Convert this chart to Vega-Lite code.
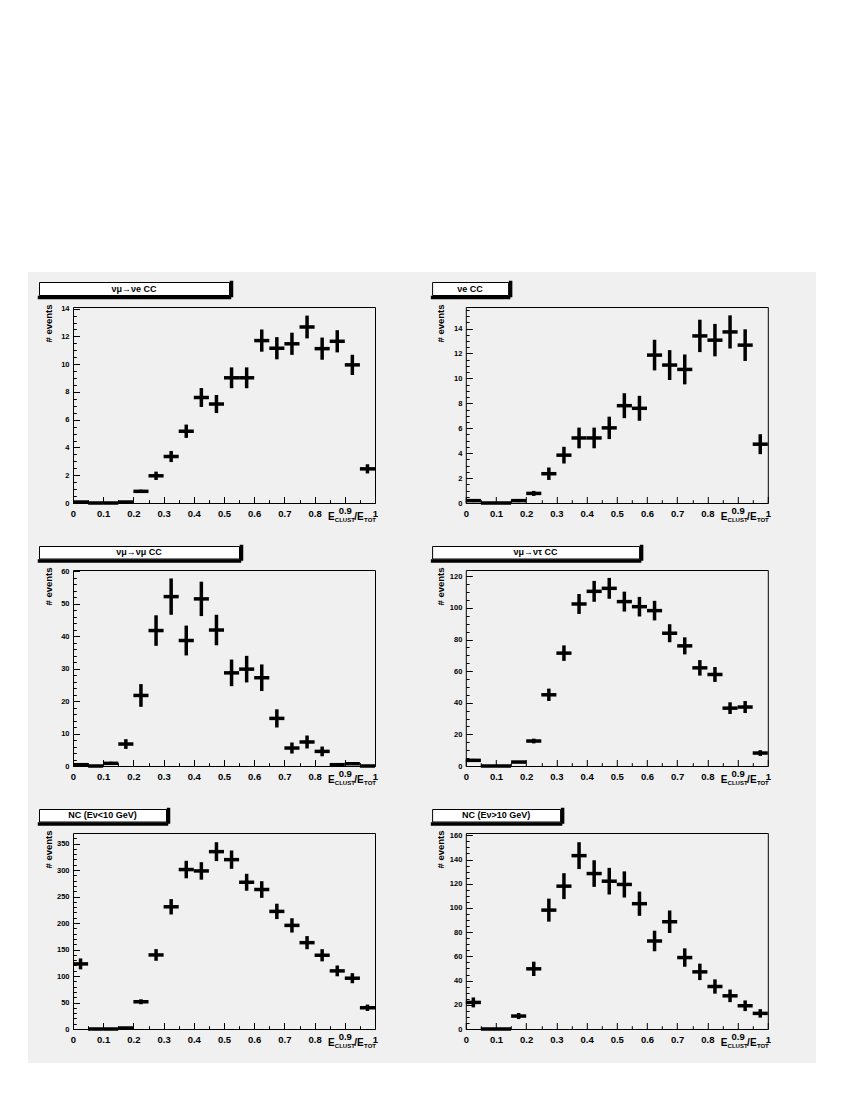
{
"$schema":"https://vega.github.io/schema/vega-lite/v6.json",
"background":"#f0f0f0",
"padding":0,
"spacing":0,
"config":{"view":{"stroke":null},"font":"Liberation Sans",
 "axis":{"domain":false,"grid":false,"tickColor":"black","tickWidth":1,"labelColor":"black","titleColor":"black","labelFont":"Liberation Sans","titleFont":"Liberation Sans","labelFontWeight":"bold","titleFontWeight":"bold","labelOverlap":false,"labelFlush":false}},
"datasets":{"h":[
{"p":1,"lo":0,"hi":0.05,"c":0.025,"n":0.07,"e":0.06},{"p":1,"lo":0.05,"hi":0.1,"c":0.075,"n":0,"e":0},{"p":1,"lo":0.1,"hi":0.15,"c":0.125,"n":0,"e":0},{"p":1,"lo":0.15,"hi":0.2,"c":0.175,"n":0.07,"e":0.06},{"p":1,"lo":0.2,"hi":0.25,"c":0.225,"n":0.84,"e":0.12},{"p":1,"lo":0.25,"hi":0.3,"c":0.275,"n":1.96,"e":0.3},{"p":1,"lo":0.3,"hi":0.35,"c":0.325,"n":3.35,"e":0.4},{"p":1,"lo":0.35,"hi":0.4,"c":0.375,"n":5.17,"e":0.48},{"p":1,"lo":0.4,"hi":0.45,"c":0.425,"n":7.6,"e":0.68},{"p":1,"lo":0.45,"hi":0.5,"c":0.475,"n":7.13,"e":0.65},{"p":1,"lo":0.5,"hi":0.55,"c":0.525,"n":9.02,"e":0.75},{"p":1,"lo":0.55,"hi":0.6,"c":0.575,"n":9.02,"e":0.75},{"p":1,"lo":0.6,"hi":0.65,"c":0.625,"n":11.7,"e":0.8},{"p":1,"lo":0.65,"hi":0.7,"c":0.675,"n":11.15,"e":0.8},{"p":1,"lo":0.7,"hi":0.75,"c":0.725,"n":11.47,"e":0.8},{"p":1,"lo":0.75,"hi":0.8,"c":0.775,"n":12.68,"e":0.82},{"p":1,"lo":0.8,"hi":0.85,"c":0.825,"n":11.12,"e":0.8},{"p":1,"lo":0.85,"hi":0.9,"c":0.875,"n":11.65,"e":0.8},{"p":1,"lo":0.9,"hi":0.95,"c":0.925,"n":9.95,"e":0.73},{"p":1,"lo":0.95,"hi":1,"c":0.975,"n":2.46,"e":0.33},
{"p":2,"lo":0,"hi":0.05,"c":0.025,"n":0.19,"e":0.12},{"p":2,"lo":0.05,"hi":0.1,"c":0.075,"n":0,"e":0},{"p":2,"lo":0.1,"hi":0.15,"c":0.125,"n":0,"e":0},{"p":2,"lo":0.15,"hi":0.2,"c":0.175,"n":0.19,"e":0.12},{"p":2,"lo":0.2,"hi":0.25,"c":0.225,"n":0.77,"e":0.2},{"p":2,"lo":0.25,"hi":0.3,"c":0.275,"n":2.35,"e":0.5},{"p":2,"lo":0.3,"hi":0.35,"c":0.325,"n":3.84,"e":0.67},{"p":2,"lo":0.35,"hi":0.4,"c":0.375,"n":5.22,"e":0.83},{"p":2,"lo":0.4,"hi":0.45,"c":0.425,"n":5.22,"e":0.83},{"p":2,"lo":0.45,"hi":0.5,"c":0.475,"n":6.03,"e":0.9},{"p":2,"lo":0.5,"hi":0.55,"c":0.525,"n":7.81,"e":1.0},{"p":2,"lo":0.55,"hi":0.6,"c":0.575,"n":7.6,"e":1.0},{"p":2,"lo":0.6,"hi":0.65,"c":0.625,"n":11.87,"e":1.23},{"p":2,"lo":0.65,"hi":0.7,"c":0.675,"n":11.07,"e":1.2},{"p":2,"lo":0.7,"hi":0.75,"c":0.725,"n":10.72,"e":1.2},{"p":2,"lo":0.75,"hi":0.8,"c":0.775,"n":13.41,"e":1.3},{"p":2,"lo":0.8,"hi":0.85,"c":0.825,"n":13.07,"e":1.3},{"p":2,"lo":0.85,"hi":0.9,"c":0.875,"n":13.73,"e":1.33},{"p":2,"lo":0.9,"hi":0.95,"c":0.925,"n":12.67,"e":1.27},{"p":2,"lo":0.95,"hi":1,"c":0.975,"n":4.72,"e":0.8},
{"p":3,"lo":0,"hi":0.05,"c":0.025,"n":0.4,"e":0.35},{"p":3,"lo":0.05,"hi":0.1,"c":0.075,"n":0,"e":0},{"p":3,"lo":0.1,"hi":0.15,"c":0.125,"n":0.82,"e":0.5},{"p":3,"lo":0.15,"hi":0.2,"c":0.175,"n":6.77,"e":1.5},{"p":3,"lo":0.2,"hi":0.25,"c":0.225,"n":21.74,"e":3.5},{"p":3,"lo":0.25,"hi":0.3,"c":0.275,"n":41.74,"e":4.7},{"p":3,"lo":0.3,"hi":0.35,"c":0.325,"n":52.2,"e":5.6},{"p":3,"lo":0.35,"hi":0.4,"c":0.375,"n":38.67,"e":4.6},{"p":3,"lo":0.4,"hi":0.45,"c":0.425,"n":51.5,"e":5.3},{"p":3,"lo":0.45,"hi":0.5,"c":0.475,"n":41.9,"e":4.7},{"p":3,"lo":0.5,"hi":0.55,"c":0.525,"n":28.7,"e":4.1},{"p":3,"lo":0.55,"hi":0.6,"c":0.575,"n":29.85,"e":4.1},{"p":3,"lo":0.6,"hi":0.65,"c":0.625,"n":27.2,"e":4.1},{"p":3,"lo":0.65,"hi":0.7,"c":0.675,"n":14.67,"e":2.8},{"p":3,"lo":0.7,"hi":0.75,"c":0.725,"n":5.54,"e":1.7},{"p":3,"lo":0.75,"hi":0.8,"c":0.775,"n":7.4,"e":2.0},{"p":3,"lo":0.8,"hi":0.85,"c":0.825,"n":4.5,"e":1.5},{"p":3,"lo":0.85,"hi":0.9,"c":0.875,"n":0.4,"e":0.3},{"p":3,"lo":0.9,"hi":0.95,"c":0.925,"n":0.7,"e":0.4},{"p":3,"lo":0.95,"hi":1,"c":0.975,"n":0,"e":0},
{"p":4,"lo":0,"hi":0.05,"c":0.025,"n":3.58,"e":0.9},{"p":4,"lo":0.05,"hi":0.1,"c":0.075,"n":0,"e":0},{"p":4,"lo":0.1,"hi":0.15,"c":0.125,"n":0,"e":0},{"p":4,"lo":0.15,"hi":0.2,"c":0.175,"n":2.5,"e":0.5},{"p":4,"lo":0.2,"hi":0.25,"c":0.225,"n":15.8,"e":1.5},{"p":4,"lo":0.25,"hi":0.3,"c":0.275,"n":45.05,"e":3.9},{"p":4,"lo":0.3,"hi":0.35,"c":0.325,"n":71.4,"e":4.9},{"p":4,"lo":0.35,"hi":0.4,"c":0.375,"n":102.5,"e":6.3},{"p":4,"lo":0.4,"hi":0.45,"c":0.425,"n":110.5,"e":6.6},{"p":4,"lo":0.45,"hi":0.5,"c":0.475,"n":112.4,"e":6.6},{"p":4,"lo":0.5,"hi":0.55,"c":0.525,"n":104,"e":6.3},{"p":4,"lo":0.55,"hi":0.6,"c":0.575,"n":100.8,"e":6.2},{"p":4,"lo":0.6,"hi":0.65,"c":0.625,"n":98.3,"e":6.2},{"p":4,"lo":0.65,"hi":0.7,"c":0.675,"n":84,"e":5.7},{"p":4,"lo":0.7,"hi":0.75,"c":0.725,"n":76,"e":5.4},{"p":4,"lo":0.75,"hi":0.8,"c":0.775,"n":62.1,"e":4.9},{"p":4,"lo":0.8,"hi":0.85,"c":0.825,"n":57.9,"e":4.7},{"p":4,"lo":0.85,"hi":0.9,"c":0.875,"n":36.6,"e":3.7},{"p":4,"lo":0.9,"hi":0.95,"c":0.925,"n":37.3,"e":3.8},{"p":4,"lo":0.95,"hi":1,"c":0.975,"n":8.2,"e":1.8},
{"p":5,"lo":0,"hi":0.05,"c":0.025,"n":122.9,"e":10.3},{"p":5,"lo":0.05,"hi":0.1,"c":0.075,"n":0,"e":0},{"p":5,"lo":0.1,"hi":0.15,"c":0.125,"n":0,"e":0},{"p":5,"lo":0.15,"hi":0.2,"c":0.175,"n":1.9,"e":1.0},{"p":5,"lo":0.2,"hi":0.25,"c":0.225,"n":51.4,"e":4.7},{"p":5,"lo":0.25,"hi":0.3,"c":0.275,"n":139.8,"e":11},{"p":5,"lo":0.3,"hi":0.35,"c":0.325,"n":230.7,"e":14.5},{"p":5,"lo":0.35,"hi":0.4,"c":0.375,"n":301,"e":16.5},{"p":5,"lo":0.4,"hi":0.45,"c":0.425,"n":298.4,"e":16.5},{"p":5,"lo":0.45,"hi":0.5,"c":0.475,"n":334.8,"e":17.8},{"p":5,"lo":0.5,"hi":0.55,"c":0.525,"n":319.7,"e":17.3},{"p":5,"lo":0.55,"hi":0.6,"c":0.575,"n":277,"e":16},{"p":5,"lo":0.6,"hi":0.65,"c":0.625,"n":263.3,"e":15.7},{"p":5,"lo":0.65,"hi":0.7,"c":0.675,"n":222,"e":14.5},{"p":5,"lo":0.7,"hi":0.75,"c":0.725,"n":195.6,"e":13.5},{"p":5,"lo":0.75,"hi":0.8,"c":0.775,"n":163,"e":12.4},{"p":5,"lo":0.8,"hi":0.85,"c":0.825,"n":139.2,"e":11.5},{"p":5,"lo":0.85,"hi":0.9,"c":0.875,"n":109.7,"e":10.2},{"p":5,"lo":0.9,"hi":0.95,"c":0.925,"n":95.9,"e":9.5},{"p":5,"lo":0.95,"hi":1,"c":0.975,"n":40.1,"e":6},
{"p":6,"lo":0,"hi":0.05,"c":0.025,"n":21.95,"e":4.1},{"p":6,"lo":0.05,"hi":0.1,"c":0.075,"n":0,"e":0},{"p":6,"lo":0.1,"hi":0.15,"c":0.125,"n":0,"e":0},{"p":6,"lo":0.15,"hi":0.2,"c":0.175,"n":10.7,"e":2.5},{"p":6,"lo":0.2,"hi":0.25,"c":0.225,"n":49.7,"e":5.9},{"p":6,"lo":0.25,"hi":0.3,"c":0.275,"n":98.2,"e":9.5},{"p":6,"lo":0.3,"hi":0.35,"c":0.325,"n":118,"e":10.7},{"p":6,"lo":0.35,"hi":0.4,"c":0.375,"n":143.2,"e":11.1},{"p":6,"lo":0.4,"hi":0.45,"c":0.425,"n":128.4,"e":11},{"p":6,"lo":0.45,"hi":0.5,"c":0.475,"n":122.1,"e":11},{"p":6,"lo":0.5,"hi":0.55,"c":0.525,"n":119.4,"e":10.8},{"p":6,"lo":0.55,"hi":0.6,"c":0.575,"n":103.5,"e":10},{"p":6,"lo":0.6,"hi":0.65,"c":0.625,"n":72.7,"e":8.5},{"p":6,"lo":0.65,"hi":0.7,"c":0.675,"n":88.6,"e":9.3},{"p":6,"lo":0.7,"hi":0.75,"c":0.725,"n":59,"e":7.6},{"p":6,"lo":0.75,"hi":0.8,"c":0.775,"n":47.2,"e":6.8},{"p":6,"lo":0.8,"hi":0.85,"c":0.825,"n":35.1,"e":5.9},{"p":6,"lo":0.85,"hi":0.9,"c":0.875,"n":27.4,"e":5.2},{"p":6,"lo":0.9,"hi":0.95,"c":0.925,"n":19.2,"e":4.4},{"p":6,"lo":0.95,"hi":1,"c":0.975,"n":12.9,"e":3.5}
]},
"hconcat":[
 {"width":28,"height":1100,"data":{"values":[]},"mark":"point","view":{"fill":"white","stroke":null}},
 {"spacing":0,"vconcat":[
  {"width":788,"height":272,"data":{"values":[]},"mark":"point","view":{"fill":"white","stroke":null}},
  {"width":788,"height":8.5,"data":{"values":[]},"mark":"point"},
  {"spacing":0,"hconcat":[
   {"width":9.25,"height":10,"data":{"values":[]},"mark":"point"},
   {"spacing":22,"vconcat":[
    {"spacing":4,"vconcat":[
     {"spacing":199.1,"hconcat":[
      {"width":190,"height":13,"view":{"fill":"white","stroke":"black","strokeWidth":1},"data":{"values":[{"t":"νμ→νe CC"}]},"mark":{"type":"text","fontSize":9,"fontWeight":"bold","color":"black"},
       "encoding":{"text":{"field":"t","type":"nominal"},
        "x":{"datum":0.5,"type":"quantitative","scale":{"domain":[0,1]},"axis":{"orient":"bottom","offset":2,"domain":true,"domainColor":"black","domainWidth":3.5,"domainCap":"square","ticks":false,"labels":false,"title":null}},
        "y":{"datum":0.5,"type":"quantitative","scale":{"domain":[0,1]},"axis":{"orient":"right","offset":2,"domain":true,"domainColor":"black","domainWidth":3.5,"domainCap":"square","ticks":false,"labels":false,"title":null}}}},
      {"width":76,"height":13,"view":{"fill":"white","stroke":"black","strokeWidth":1},"data":{"values":[{"t":"νe CC"}]},"mark":{"type":"text","fontSize":9,"fontWeight":"bold","color":"black"},
       "encoding":{"text":{"field":"t","type":"nominal"},
        "x":{"datum":0.5,"type":"quantitative","scale":{"domain":[0,1]},"axis":{"orient":"bottom","offset":2,"domain":true,"domainColor":"black","domainWidth":3.5,"domainCap":"square","ticks":false,"labels":false,"title":null}},
        "y":{"datum":0.5,"type":"quantitative","scale":{"domain":[0,1]},"axis":{"orient":"right","offset":2,"domain":true,"domainColor":"black","domainWidth":3.5,"domainCap":"square","ticks":false,"labels":false,"title":null}}}}
     ]},
     {"spacing":0,"hconcat":[
      {"width":0.5,"height":1,"data":{"values":[]},"mark":"point"},
      {"spacing":53.8,"hconcat":[
      {"width":302,"height":196,"view":{"stroke":"black","strokeWidth":1},"data":{"name":"h"},"transform":[{"filter":"datum.p==1"}],
       "resolve":{"axis":{"x":"independent","y":"independent"}},
       "layer":[
        {"mark":{"type":"rule","strokeWidth":3.5,"color":"black"},
         "encoding":{"x":{"field":"lo","type":"quantitative","scale":{"domain":[0,1],"nice":false},"axis":{"orient":"bottom","values":[0,0.1,0.2,0.3,0.4,0.5,0.6,0.7,0.8,0.9,1],"format":"~g","tickSize":-6.5,"labelFontSize":9.5,"labelPadding":{"condition":{"test":"datum.value > 0.85 && datum.value < 0.95","value":8.7},"value":11.5},"title":"E","titleFontSize":10,"titleX":254.5,"titleY":16.3,"titleAlign":"left","titleBaseline":"alphabetic"}},"x2":{"field":"hi"},
          "y":{"field":"n","type":"quantitative","scale":{"domain":[0,14.12],"nice":false},"axis":{"orient":"left","values":[0,2,4,6,8,10,12,14],"format":"d","tickSize":-6.5,"labelFontSize":7.5,"labelPadding":10.5,"title":"# events","titleFontSize":9.5,"titleX":-25,"titleY":-3,"titleAlign":"right","titleBaseline":"middle","titleAngle":270}}}},
        {"mark":{"type":"errorbar","ticks":false,"thickness":3.5,"rule":{"strokeWidth":3.5},"color":"black"},
         "encoding":{"x":{"field":"c","type":"quantitative","axis":{"orient":"bottom","ticks":false,"labels":false,"title":"/E","titleFontSize":10,"titleX":280.8,"titleY":16.3,"titleAlign":"left","titleBaseline":"alphabetic"}},"y":{"field":"n","type":"quantitative","axis":null},"yError":{"field":"e"}}},
        {"mark":{"type":"point","opacity":0},
         "encoding":{"x":{"field":"c","type":"quantitative","axis":{"orient":"bottom","values":[0.05,0.15,0.25,0.35,0.45,0.55,0.65,0.75,0.85,0.95],"tickSize":-3.3,"labels":false,"title":"CLUST","titleFontSize":6,"titleX":261.3,"titleY":18.5,"titleAlign":"left","titleBaseline":"alphabetic"}},
          "y":{"field":"n","type":"quantitative","axis":{"orient":"left","values":[0.5,1,1.5,2.5,3,3.5,4.5,5,5.5,6.5,7,7.5,8.5,9,9.5,10.5,11,11.5,12.5,13,13.5],"tickSize":-3.3,"labels":false,"title":"I","titleOpacity":0,"titleAngle":0,"titleX":-31.75,"titleY":-4,"titleAlign":"left","titleBaseline":"top","titleFontSize":4}}}},
        {"mark":{"type":"point","opacity":0},
         "encoding":{"x":{"field":"c","type":"quantitative","axis":{"orient":"bottom","ticks":false,"labels":false,"title":"TOT","titleFontSize":6,"titleX":290.6,"titleY":18.5,"titleAlign":"left","titleBaseline":"alphabetic"}},"y":{"field":"n","type":"quantitative","axis":null}}}
       ]},
      {"width":302,"height":196,"view":{"stroke":"black","strokeWidth":1},"data":{"name":"h"},"transform":[{"filter":"datum.p==2"}],
       "resolve":{"axis":{"x":"independent","y":"independent"}},
       "layer":[
        {"mark":{"type":"rule","strokeWidth":3.5,"color":"black"},
         "encoding":{"x":{"field":"lo","type":"quantitative","scale":{"domain":[0,1],"nice":false},"axis":{"orient":"bottom","values":[0,0.1,0.2,0.3,0.4,0.5,0.6,0.7,0.8,0.9,1],"format":"~g","tickSize":-6.5,"labelFontSize":9.5,"labelPadding":{"condition":{"test":"datum.value > 0.85 && datum.value < 0.95","value":8.7},"value":11.5},"title":"E","titleFontSize":10,"titleX":254.5,"titleY":16.3,"titleAlign":"left","titleBaseline":"alphabetic"}},"x2":{"field":"hi"},
          "y":{"field":"n","type":"quantitative","scale":{"domain":[0,15.73],"nice":false},"axis":{"orient":"left","values":[0,2,4,6,8,10,12,14],"format":"d","tickSize":-6.5,"labelFontSize":7.5,"labelPadding":10.5,"title":"# events","titleFontSize":9.5,"titleX":-25,"titleY":-3,"titleAlign":"right","titleBaseline":"middle","titleAngle":270}}}},
        {"mark":{"type":"errorbar","ticks":false,"thickness":3.5,"rule":{"strokeWidth":3.5},"color":"black"},
         "encoding":{"x":{"field":"c","type":"quantitative","axis":{"orient":"bottom","ticks":false,"labels":false,"title":"/E","titleFontSize":10,"titleX":280.8,"titleY":16.3,"titleAlign":"left","titleBaseline":"alphabetic"}},"y":{"field":"n","type":"quantitative","axis":null},"yError":{"field":"e"}}},
        {"mark":{"type":"point","opacity":0},
         "encoding":{"x":{"field":"c","type":"quantitative","axis":{"orient":"bottom","values":[0.05,0.15,0.25,0.35,0.45,0.55,0.65,0.75,0.85,0.95],"tickSize":-3.3,"labels":false,"title":"CLUST","titleFontSize":6,"titleX":261.3,"titleY":18.5,"titleAlign":"left","titleBaseline":"alphabetic"}},
          "y":{"field":"n","type":"quantitative","axis":{"orient":"left","values":[0.5,1,1.5,2.5,3,3.5,4.5,5,5.5,6.5,7,7.5,8.5,9,9.5,10.5,11,11.5,12.5,13,13.5,14.5,15,15.5],"tickSize":-3.3,"labels":false,"title":"I","titleOpacity":0,"titleAngle":0,"titleX":-31.75,"titleY":-4,"titleAlign":"left","titleBaseline":"top","titleFontSize":4}}}},
        {"mark":{"type":"point","opacity":0},
         "encoding":{"x":{"field":"c","type":"quantitative","axis":{"orient":"bottom","ticks":false,"labels":false,"title":"TOT","titleFontSize":6,"titleX":290.6,"titleY":18.5,"titleAlign":"left","titleBaseline":"alphabetic"}},"y":{"field":"n","type":"quantitative","axis":null}}}
       ]}
      ]}
     ]}
    ]},
    {"spacing":4,"vconcat":[
     {"spacing":189.1,"hconcat":[
      {"width":200,"height":12.5,"view":{"fill":"white","stroke":"black","strokeWidth":1},"data":{"values":[{"t":"νμ→νμ CC"}]},"mark":{"type":"text","fontSize":9,"fontWeight":"bold","color":"black"},
       "encoding":{"text":{"field":"t","type":"nominal"},
        "x":{"datum":0.5,"type":"quantitative","scale":{"domain":[0,1]},"axis":{"orient":"bottom","offset":2,"domain":true,"domainColor":"black","domainWidth":3.5,"domainCap":"square","ticks":false,"labels":false,"title":null}},
        "y":{"datum":0.5,"type":"quantitative","scale":{"domain":[0,1]},"axis":{"orient":"right","offset":2,"domain":true,"domainColor":"black","domainWidth":3.5,"domainCap":"square","ticks":false,"labels":false,"title":null}}}},
      {"width":207,"height":12.5,"view":{"fill":"white","stroke":"black","strokeWidth":1},"data":{"values":[{"t":"νμ→ντ CC"}]},"mark":{"type":"text","fontSize":9,"fontWeight":"bold","color":"black"},
       "encoding":{"text":{"field":"t","type":"nominal"},
        "x":{"datum":0.5,"type":"quantitative","scale":{"domain":[0,1]},"axis":{"orient":"bottom","offset":2,"domain":true,"domainColor":"black","domainWidth":3.5,"domainCap":"square","ticks":false,"labels":false,"title":null}},
        "y":{"datum":0.5,"type":"quantitative","scale":{"domain":[0,1]},"axis":{"orient":"right","offset":2,"domain":true,"domainColor":"black","domainWidth":3.5,"domainCap":"square","ticks":false,"labels":false,"title":null}}}}
     ]},
     {"spacing":0,"hconcat":[
      {"width":0.5,"height":1,"data":{"values":[]},"mark":"point"},
      {"spacing":53.8,"hconcat":[
      {"width":302,"height":196,"view":{"stroke":"black","strokeWidth":1},"data":{"name":"h"},"transform":[{"filter":"datum.p==3"}],
       "resolve":{"axis":{"x":"independent","y":"independent"}},
       "layer":[
        {"mark":{"type":"rule","strokeWidth":3.5,"color":"black"},
         "encoding":{"x":{"field":"lo","type":"quantitative","scale":{"domain":[0,1],"nice":false},"axis":{"orient":"bottom","values":[0,0.1,0.2,0.3,0.4,0.5,0.6,0.7,0.8,0.9,1],"format":"~g","tickSize":-6.5,"labelFontSize":9.5,"labelPadding":{"condition":{"test":"datum.value > 0.85 && datum.value < 0.95","value":8.7},"value":11.5},"title":"E","titleFontSize":10,"titleX":254.5,"titleY":16.3,"titleAlign":"left","titleBaseline":"alphabetic"}},"x2":{"field":"hi"},
          "y":{"field":"n","type":"quantitative","scale":{"domain":[0,60.4],"nice":false},"axis":{"orient":"left","values":[0,10,20,30,40,50,60],"format":"d","tickSize":-6.5,"labelFontSize":7.5,"labelPadding":10.5,"title":"# events","titleFontSize":9.5,"titleX":-25,"titleY":-3,"titleAlign":"right","titleBaseline":"middle","titleAngle":270}}}},
        {"mark":{"type":"errorbar","ticks":false,"thickness":3.5,"rule":{"strokeWidth":3.5},"color":"black"},
         "encoding":{"x":{"field":"c","type":"quantitative","axis":{"orient":"bottom","ticks":false,"labels":false,"title":"/E","titleFontSize":10,"titleX":280.8,"titleY":16.3,"titleAlign":"left","titleBaseline":"alphabetic"}},"y":{"field":"n","type":"quantitative","axis":null},"yError":{"field":"e"}}},
        {"mark":{"type":"point","opacity":0},
         "encoding":{"x":{"field":"c","type":"quantitative","axis":{"orient":"bottom","values":[0.05,0.15,0.25,0.35,0.45,0.55,0.65,0.75,0.85,0.95],"tickSize":-3.3,"labels":false,"title":"CLUST","titleFontSize":6,"titleX":261.3,"titleY":18.5,"titleAlign":"left","titleBaseline":"alphabetic"}},
          "y":{"field":"n","type":"quantitative","axis":{"orient":"left","values":[2,4,6,8,12,14,16,18,22,24,26,28,32,34,36,38,42,44,46,48,52,54,56,58],"tickSize":-3.3,"labels":false,"title":"I","titleOpacity":0,"titleAngle":0,"titleX":-31.75,"titleY":-4,"titleAlign":"left","titleBaseline":"top","titleFontSize":4}}}},
        {"mark":{"type":"point","opacity":0},
         "encoding":{"x":{"field":"c","type":"quantitative","axis":{"orient":"bottom","ticks":false,"labels":false,"title":"TOT","titleFontSize":6,"titleX":290.6,"titleY":18.5,"titleAlign":"left","titleBaseline":"alphabetic"}},"y":{"field":"n","type":"quantitative","axis":null}}}
       ]},
      {"width":302,"height":196,"view":{"stroke":"black","strokeWidth":1},"data":{"name":"h"},"transform":[{"filter":"datum.p==4"}],
       "resolve":{"axis":{"x":"independent","y":"independent"}},
       "layer":[
        {"mark":{"type":"rule","strokeWidth":3.5,"color":"black"},
         "encoding":{"x":{"field":"lo","type":"quantitative","scale":{"domain":[0,1],"nice":false},"axis":{"orient":"bottom","values":[0,0.1,0.2,0.3,0.4,0.5,0.6,0.7,0.8,0.9,1],"format":"~g","tickSize":-6.5,"labelFontSize":9.5,"labelPadding":{"condition":{"test":"datum.value > 0.85 && datum.value < 0.95","value":8.7},"value":11.5},"title":"E","titleFontSize":10,"titleX":254.5,"titleY":16.3,"titleAlign":"left","titleBaseline":"alphabetic"}},"x2":{"field":"hi"},
          "y":{"field":"n","type":"quantitative","scale":{"domain":[0,124],"nice":false},"axis":{"orient":"left","values":[0,20,40,60,80,100,120],"format":"d","tickSize":-6.5,"labelFontSize":7.5,"labelPadding":10.5,"title":"# events","titleFontSize":9.5,"titleX":-25,"titleY":-3,"titleAlign":"right","titleBaseline":"middle","titleAngle":270}}}},
        {"mark":{"type":"errorbar","ticks":false,"thickness":3.5,"rule":{"strokeWidth":3.5},"color":"black"},
         "encoding":{"x":{"field":"c","type":"quantitative","axis":{"orient":"bottom","ticks":false,"labels":false,"title":"/E","titleFontSize":10,"titleX":280.8,"titleY":16.3,"titleAlign":"left","titleBaseline":"alphabetic"}},"y":{"field":"n","type":"quantitative","axis":null},"yError":{"field":"e"}}},
        {"mark":{"type":"point","opacity":0},
         "encoding":{"x":{"field":"c","type":"quantitative","axis":{"orient":"bottom","values":[0.05,0.15,0.25,0.35,0.45,0.55,0.65,0.75,0.85,0.95],"tickSize":-3.3,"labels":false,"title":"CLUST","titleFontSize":6,"titleX":261.3,"titleY":18.5,"titleAlign":"left","titleBaseline":"alphabetic"}},
          "y":{"field":"n","type":"quantitative","axis":{"orient":"left","values":[5,10,15,25,30,35,45,50,55,65,70,75,85,90,95,105,110,115],"tickSize":-3.3,"labels":false,"title":"I","titleOpacity":0,"titleAngle":0,"titleX":-31.75,"titleY":-4,"titleAlign":"left","titleBaseline":"top","titleFontSize":4}}}},
        {"mark":{"type":"point","opacity":0},
         "encoding":{"x":{"field":"c","type":"quantitative","axis":{"orient":"bottom","ticks":false,"labels":false,"title":"TOT","titleFontSize":6,"titleX":290.6,"titleY":18.5,"titleAlign":"left","titleBaseline":"alphabetic"}},"y":{"field":"n","type":"quantitative","axis":null}}}
       ]}
      ]}
     ]}
    ]},
    {"spacing":4,"vconcat":[
     {"spacing":262.1,"hconcat":[
      {"width":127,"height":12.5,"view":{"fill":"white","stroke":"black","strokeWidth":1},"data":{"values":[{"t":"NC (Eν<10 GeV)"}]},"mark":{"type":"text","fontSize":9,"fontWeight":"bold","color":"black"},
       "encoding":{"text":{"field":"t","type":"nominal"},
        "x":{"datum":0.5,"type":"quantitative","scale":{"domain":[0,1]},"axis":{"orient":"bottom","offset":2,"domain":true,"domainColor":"black","domainWidth":3.5,"domainCap":"square","ticks":false,"labels":false,"title":null}},
        "y":{"datum":0.5,"type":"quantitative","scale":{"domain":[0,1]},"axis":{"orient":"right","offset":2,"domain":true,"domainColor":"black","domainWidth":3.5,"domainCap":"square","ticks":false,"labels":false,"title":null}}}},
      {"width":128,"height":12.5,"view":{"fill":"white","stroke":"black","strokeWidth":1},"data":{"values":[{"t":"NC (Eν>10 GeV)"}]},"mark":{"type":"text","fontSize":9,"fontWeight":"bold","color":"black"},
       "encoding":{"text":{"field":"t","type":"nominal"},
        "x":{"datum":0.5,"type":"quantitative","scale":{"domain":[0,1]},"axis":{"orient":"bottom","offset":2,"domain":true,"domainColor":"black","domainWidth":3.5,"domainCap":"square","ticks":false,"labels":false,"title":null}},
        "y":{"datum":0.5,"type":"quantitative","scale":{"domain":[0,1]},"axis":{"orient":"right","offset":2,"domain":true,"domainColor":"black","domainWidth":3.5,"domainCap":"square","ticks":false,"labels":false,"title":null}}}}
     ]},
     {"spacing":0,"hconcat":[
      {"width":0.5,"height":1,"data":{"values":[]},"mark":"point"},
      {"spacing":53.8,"hconcat":[
      {"width":302,"height":196,"view":{"stroke":"black","strokeWidth":1},"data":{"name":"h"},"transform":[{"filter":"datum.p==5"}],
       "resolve":{"axis":{"x":"independent","y":"independent"}},
       "layer":[
        {"mark":{"type":"rule","strokeWidth":3.5,"color":"black"},
         "encoding":{"x":{"field":"lo","type":"quantitative","scale":{"domain":[0,1],"nice":false},"axis":{"orient":"bottom","values":[0,0.1,0.2,0.3,0.4,0.5,0.6,0.7,0.8,0.9,1],"format":"~g","tickSize":-6.5,"labelFontSize":9.5,"labelPadding":{"condition":{"test":"datum.value > 0.85 && datum.value < 0.95","value":8.7},"value":11.5},"title":"E","titleFontSize":10,"titleX":254.5,"titleY":16.3,"titleAlign":"left","titleBaseline":"alphabetic"}},"x2":{"field":"hi"},
          "y":{"field":"n","type":"quantitative","scale":{"domain":[0,370],"nice":false},"axis":{"orient":"left","values":[0,50,100,150,200,250,300,350],"format":"d","tickSize":-6.5,"labelFontSize":7.5,"labelPadding":10.5,"title":"# events","titleFontSize":9.5,"titleX":-25,"titleY":-3,"titleAlign":"right","titleBaseline":"middle","titleAngle":270}}}},
        {"mark":{"type":"errorbar","ticks":false,"thickness":3.5,"rule":{"strokeWidth":3.5},"color":"black"},
         "encoding":{"x":{"field":"c","type":"quantitative","axis":{"orient":"bottom","ticks":false,"labels":false,"title":"/E","titleFontSize":10,"titleX":280.8,"titleY":16.3,"titleAlign":"left","titleBaseline":"alphabetic"}},"y":{"field":"n","type":"quantitative","axis":null},"yError":{"field":"e"}}},
        {"mark":{"type":"point","opacity":0},
         "encoding":{"x":{"field":"c","type":"quantitative","axis":{"orient":"bottom","values":[0.05,0.15,0.25,0.35,0.45,0.55,0.65,0.75,0.85,0.95],"tickSize":-3.3,"labels":false,"title":"CLUST","titleFontSize":6,"titleX":261.3,"titleY":18.5,"titleAlign":"left","titleBaseline":"alphabetic"}},
          "y":{"field":"n","type":"quantitative","axis":{"orient":"left","values":[10,20,30,40,60,70,80,90,110,120,130,140,160,170,180,190,210,220,230,240,260,270,280,290,310,320,330,340,360],"tickSize":-3.3,"labels":false,"title":"I","titleOpacity":0,"titleAngle":0,"titleX":-31.75,"titleY":-4,"titleAlign":"left","titleBaseline":"top","titleFontSize":4}}}},
        {"mark":{"type":"point","opacity":0},
         "encoding":{"x":{"field":"c","type":"quantitative","axis":{"orient":"bottom","ticks":false,"labels":false,"title":"TOT","titleFontSize":6,"titleX":290.6,"titleY":18.5,"titleAlign":"left","titleBaseline":"alphabetic"}},"y":{"field":"n","type":"quantitative","axis":null}}}
       ]},
      {"width":302,"height":196,"view":{"stroke":"black","strokeWidth":1},"data":{"name":"h"},"transform":[{"filter":"datum.p==6"}],
       "resolve":{"axis":{"x":"independent","y":"independent"}},
       "layer":[
        {"mark":{"type":"rule","strokeWidth":3.5,"color":"black"},
         "encoding":{"x":{"field":"lo","type":"quantitative","scale":{"domain":[0,1],"nice":false},"axis":{"orient":"bottom","values":[0,0.1,0.2,0.3,0.4,0.5,0.6,0.7,0.8,0.9,1],"format":"~g","tickSize":-6.5,"labelFontSize":9.5,"labelPadding":{"condition":{"test":"datum.value > 0.85 && datum.value < 0.95","value":8.7},"value":11.5},"title":"E","titleFontSize":10,"titleX":254.5,"titleY":16.3,"titleAlign":"left","titleBaseline":"alphabetic"}},"x2":{"field":"hi"},
          "y":{"field":"n","type":"quantitative","scale":{"domain":[0,161.9],"nice":false},"axis":{"orient":"left","values":[0,20,40,60,80,100,120,140,160],"format":"d","tickSize":-6.5,"labelFontSize":7.5,"labelPadding":10.5,"title":"# events","titleFontSize":9.5,"titleX":-25,"titleY":-3,"titleAlign":"right","titleBaseline":"middle","titleAngle":270}}}},
        {"mark":{"type":"errorbar","ticks":false,"thickness":3.5,"rule":{"strokeWidth":3.5},"color":"black"},
         "encoding":{"x":{"field":"c","type":"quantitative","axis":{"orient":"bottom","ticks":false,"labels":false,"title":"/E","titleFontSize":10,"titleX":280.8,"titleY":16.3,"titleAlign":"left","titleBaseline":"alphabetic"}},"y":{"field":"n","type":"quantitative","axis":null},"yError":{"field":"e"}}},
        {"mark":{"type":"point","opacity":0},
         "encoding":{"x":{"field":"c","type":"quantitative","axis":{"orient":"bottom","values":[0.05,0.15,0.25,0.35,0.45,0.55,0.65,0.75,0.85,0.95],"tickSize":-3.3,"labels":false,"title":"CLUST","titleFontSize":6,"titleX":261.3,"titleY":18.5,"titleAlign":"left","titleBaseline":"alphabetic"}},
          "y":{"field":"n","type":"quantitative","axis":{"orient":"left","values":[5,10,15,25,30,35,45,50,55,65,70,75,85,90,95,105,110,115,125,130,135,145,150,155],"tickSize":-3.3,"labels":false,"title":"I","titleOpacity":0,"titleAngle":0,"titleX":-31.75,"titleY":-4,"titleAlign":"left","titleBaseline":"top","titleFontSize":4}}}},
        {"mark":{"type":"point","opacity":0},
         "encoding":{"x":{"field":"c","type":"quantitative","axis":{"orient":"bottom","ticks":false,"labels":false,"title":"TOT","titleFontSize":6,"titleX":290.6,"titleY":18.5,"titleAlign":"left","titleBaseline":"alphabetic"}},"y":{"field":"n","type":"quantitative","axis":null}}}
       ]}
      ]}
     ]}
    ]}
   ]}
  ]},
  {"width":788,"height":14,"data":{"values":[]},"mark":"point"},
  {"width":788,"height":40,"data":{"values":[]},"mark":"point","view":{"fill":"white","stroke":null}}
 ]},
 {"width":34,"height":1100,"data":{"values":[]},"mark":"point","view":{"fill":"white","stroke":null}}
]
}
